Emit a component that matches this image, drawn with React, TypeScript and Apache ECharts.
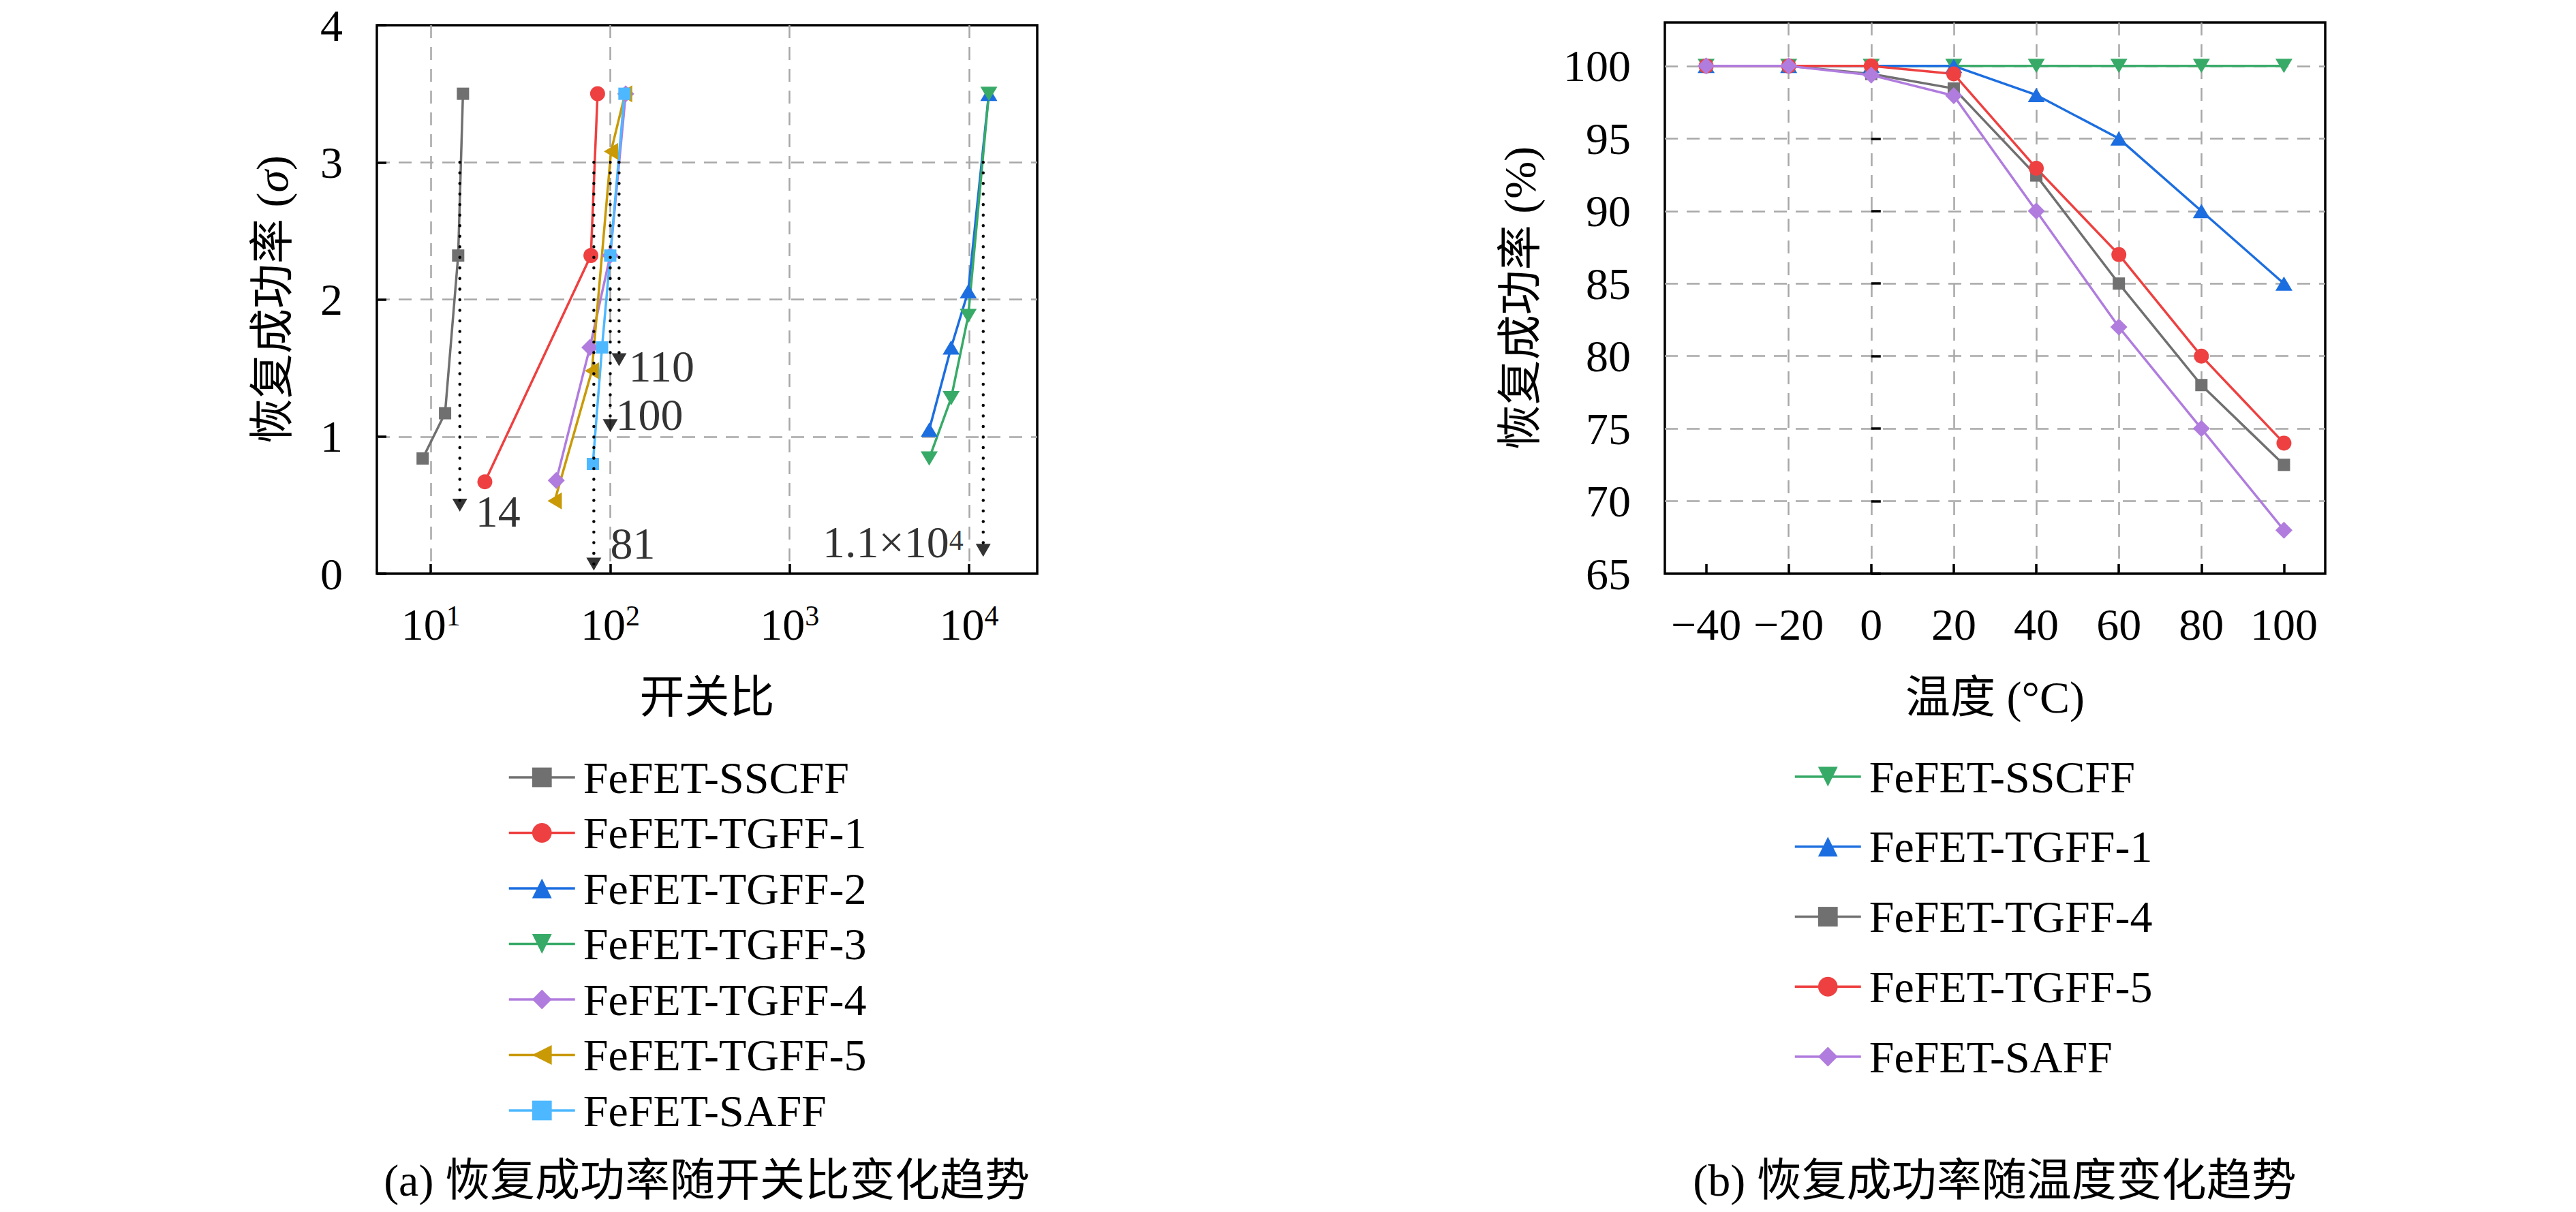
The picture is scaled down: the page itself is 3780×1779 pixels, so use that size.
import React, { useEffect, useRef } from 'react';
import * as echarts from 'echarts';

// ---------- (a) recovery success rate vs on/off ratio ----------
const leftNames = ['FeFET-SSCFF', 'FeFET-TGFF-1', 'FeFET-TGFF-2', 'FeFET-TGFF-3', 'FeFET-TGFF-4', 'FeFET-TGFF-5', 'FeFET-SAFF'];
const sscffRatio = [9, 12, 14.2, 15.1];
const sscffSigma = [0.84, 1.17, 2.32, 3.5];
const tgff1Ratio = [20, 78, 85];
const tgff1Sigma = [0.67, 2.32, 3.5];
const tgff2Ratio = [6000, 7950, 9900, 12900];
const tgff2Sigma = [1.05, 1.65, 2.06, 3.5];
const tgff3Ratio = [6000, 7950, 9900, 12900];
const tgff3Sigma = [0.84, 1.28, 1.88, 3.5];
const tgff4Ratio = [50, 77, 100, 122];
const tgff4Sigma = [0.68, 1.65, 2.32, 3.5];
const tgff5Ratio = [49, 79, 101, 121];
const tgff5Sigma = [0.53, 1.48, 3.08, 3.5];
const saffRatio = [80, 90, 100, 120];
const saffSigma = [0.8, 1.65, 2.32, 3.5];

// dotted arrows marking the on/off ratio reached
const arrowRatio = [14.5, 81, 100, 112, 12000];
const arrowFrom = [3, 3, 3, 3, 3];
const arrowTo = [0.5, 0.07, 1.08, 1.56, 0.17];
const arrowText = ['14', '81', '100', '110', '1.1×10{sup|4}'];

const leftYTicks = [0, 1, 2, 3, 4];
const leftXRange = [5, 24000];

// ---------- (b) recovery success rate vs temperature ----------
const rightNames = ['FeFET-SSCFF', 'FeFET-TGFF-1', 'FeFET-TGFF-4', 'FeFET-TGFF-5', 'FeFET-SAFF'];
const temps = [-40, -20, 0, 20, 40, 60, 80, 100];
const rSSCFF = [100, 100, 100, 100, 100, 100, 100, 100];
const rTGFF1 = [100, 100, 100, 100, 98, 95, 90, 85];
const rTGFF4 = [100, 100, 99.45, 98.45, 92.45, 85, 78, 72.5];
const rTGFF5 = [100, 100, 100, 99.45, 92.95, 87, 80, 74];
const rSAFF = [100, 100, 99.37, 97.95, 90, 82, 75, 68];
const rightYTicks = [65, 70, 75, 80, 85, 90, 95, 100];

// ---------- styles ----------
const C = {
  gray: '#707070',
  red: '#ee4040',
  blue: '#1c6ee0',
  green: '#38aa68',
  purple: '#b07cde',
  gold: '#c99a06',
  sky: '#4db8ff',
};
const FONT = '"Liberation Serif", "Noto Sans CJK SC", serif';
const FS = 66;
const GRID_L = { left: 553, top: 37, width: 969, height: 805 };
const GRID_R = { left: 553, top: 33, width: 969, height: 809 };

type Sty = { color: string; symbol: string; size: number | number[]; rotate: number };
const SQ = { symbol: 'rect', size: 18, rotate: 0 };
const CI = { symbol: 'circle', size: 22, rotate: 0 };
const UP = { symbol: 'triangle', size: [25, 21], rotate: 0 };
const DN = { symbol: 'triangle', size: [25, 21], rotate: 180 };
const DI = { symbol: 'diamond', size: 25, rotate: 0 };
const LT = { symbol: 'triangle', size: [25, 21], rotate: 90 };

const leftStyles: Sty[] = [
  { ...SQ, color: C.gray },
  { ...CI, color: C.red },
  { ...UP, color: C.blue },
  { ...DN, color: C.green },
  { ...DI, color: C.purple },
  { ...LT, color: C.gold },
  { ...SQ, color: C.sky },
];
const rightStyles: Sty[] = [
  { ...DN, color: C.green },
  { ...UP, color: C.blue },
  { ...SQ, color: C.gray },
  { ...CI, color: C.red },
  { ...DI, color: C.purple },
];
// label placement for arrow annotations: [position, dx, dy]
const arrowLabelPlace: [string, number, number][] = [
  ['right', 12, 9],
  ['right', 13, -30],
  ['right', -3, -16],
  ['right', 3, 9],
  ['left', -18, -12],
];

const zip = (xs: number[], ys: number[]) => xs.map((x, i) => [x, ys[i]]);

const supRich = {
  sup: { fontSize: 42, lineHeight: 34, verticalAlign: 'top', fontFamily: FONT, color: '#000' },
};

const gridLine = { show: true, lineStyle: { color: '#a8a8a8', width: 2.5, type: [19, 13] }, showMinLine: false, showMaxLine: false };
const tickStyle = { show: true, inside: true, length: 14, lineStyle: { color: '#000', width: 3.5 } };
const labelBase = { fontSize: FS, fontFamily: FONT, color: '#000', lineHeight: FS };

function lineSeries(name: string, data: number[][], s: Sty) {
  return {
    type: 'line',
    name,
    data,
    symbol: s.symbol,
    symbolSize: s.size,
    symbolRotate: s.rotate,
    showAllSymbol: true,
    clip: false,
    lineStyle: { color: s.color, width: 3.5 },
    itemStyle: { color: s.color },
    emphasis: { disabled: true },
    z: 2,
  };
}

function legendOpt(names: string[], left: number, top: number, gap: number) {
  return {
    orient: 'vertical',
    left,
    top,
    padding: 0,
    itemWidth: 97,
    itemHeight: 36,
    itemGap: gap,
    selectedMode: false,
    data: names,
    lineStyle: { width: 3.5 },
    textStyle: { fontSize: FS, fontFamily: FONT, color: '#000', lineHeight: FS, padding: [0, 0, 0, 7] },
  };
}

function caption(text: string) {
  return [
    {
      type: 'text',
      x: 1037,
      y: 1732,
      style: {
        text,
        fontSize: FS,
        fontFamily: FONT,
        fill: '#000',
        align: 'center',
        verticalAlign: 'middle',
        textAlign: 'center',
        textVerticalAlign: 'middle',
      },
    },
  ];
}

function leftOption() {
  const xs = [sscffRatio, tgff1Ratio, tgff2Ratio, tgff3Ratio, tgff4Ratio, tgff5Ratio, saffRatio];
  const ys = [sscffSigma, tgff1Sigma, tgff2Sigma, tgff3Sigma, tgff4Sigma, tgff5Sigma, saffSigma];
  const series: any[] = leftNames.map((n, i) => lineSeries(n, zip(xs[i], ys[i]), leftStyles[i]));
  arrowRatio.forEach((x, i) => {
    series.push({
      type: 'line',
      name: 'arrow-' + i,
      data: [[x, arrowFrom[i]], [x, arrowTo[i]]],
      symbol: 'none',
      clip: false,
      lineStyle: { color: '#000', width: 4.5, type: [0.01, 15.5], cap: 'round' },
      emphasis: { disabled: true },
      z: 3,
    });
  });
  series.push({
    type: 'scatter',
    name: 'arrow-heads',
    symbol: 'triangle',
    symbolRotate: 180,
    symbolSize: [22, 19],
    itemStyle: { color: '#000' },
    emphasis: { disabled: true },
    z: 4,
    data: arrowRatio.map((x, i) => ({
      value: [x, arrowTo[i]],
      label: {
        show: true,
        position: arrowLabelPlace[i][0],
        distance: 0,
        offset: [arrowLabelPlace[i][1], arrowLabelPlace[i][2]],
        formatter: arrowText[i],
        fontSize: FS,
        fontFamily: FONT,
        color: '#000',
        lineHeight: 48,
        textBorderWidth: 0,
        rich: supRich,
      },
    })),
  });

  return {
    animation: false,
    backgroundColor: '#fff',
    grid: { ...GRID_L, show: true, borderColor: '#000', borderWidth: 3.5, backgroundColor: 'transparent' },
    legend: legendOpt(leftNames, 745, 1108, 15.5),
    xAxis: {
      type: 'log',
      logBase: 10,
      min: leftXRange[0],
      max: leftXRange[1],
      axisLine: { show: false },
      axisTick: tickStyle,
      splitLine: gridLine,
      axisLabel: {
        ...labelBase,
        margin: 41,
        showMinLabel: false,
        showMaxLabel: false,
        formatter: (v: number) => {
          const e = Math.log10(v);
          if (Math.abs(e - Math.round(e)) > 1e-6) return '';
          return '10{sup|' + Math.round(e) + '}';
        },
        rich: supRich,
      },
      name: '开关比',
      nameLocation: 'middle',
      nameGap: 148,
      nameTextStyle: { ...labelBase },
    },
    yAxis: {
      type: 'value',
      min: leftYTicks[0],
      max: leftYTicks[leftYTicks.length - 1],
      interval: 1,
      axisLine: { show: false },
      axisTick: tickStyle,
      splitLine: gridLine,
      axisLabel: { ...labelBase, lineHeight: 48, margin: 50 },
      name: '恢复成功率 ({it|σ})',
      nameLocation: 'middle',
      nameGap: 121,
      nameTextStyle: {
        ...labelBase,
        rich: { it: { fontStyle: 'italic', fontSize: FS, fontFamily: FONT, color: '#000', lineHeight: FS } },
      },
    },
    graphic: caption('(a) 恢复成功率随开关比变化趋势'),
    series,
  };
}

function rightOption() {
  const ys = [rSSCFF, rTGFF1, rTGFF4, rTGFF5, rSAFF];
  const series = rightNames.map((n, i) => lineSeries(n, zip(temps, ys[i]), rightStyles[i]));
  return {
    animation: false,
    backgroundColor: '#fff',
    grid: { ...GRID_R, show: true, borderColor: '#000', borderWidth: 3.5, backgroundColor: 'transparent' },
    legend: legendOpt(rightNames, 742, 1107, 36.75),
    xAxis: {
      type: 'value',
      min: -50,
      max: 110,
      axisLine: { show: false },
      axisTick: { ...tickStyle, customValues: temps },
      splitLine: gridLine,
      axisLabel: {
        ...labelBase,
        margin: 41,
        customValues: temps,
        formatter: (v: number) => String(v).replace('-', '\u2212'),
      },
      name: '温度 (°C)',
      nameLocation: 'middle',
      nameGap: 148,
      nameTextStyle: { ...labelBase },
    },
    yAxis: {
      type: 'value',
      min: rightYTicks[0],
      max: 103,
      interval: 5,
      axisLine: { show: false },
      axisTick: tickStyle,
      splitLine: gridLine,
      axisLabel: { ...labelBase, lineHeight: 48, margin: 50, showMaxLabel: false },
      name: '恢复成功率 (%)',
      nameLocation: 'middle',
      nameGap: 180,
      nameTextStyle: { ...labelBase },
    },
    graphic: caption('(b) 恢复成功率随温度变化趋势'),
    series,
  };
}

export default function App() {
  const leftRef = useRef<HTMLDivElement>(null);
  const rightRef = useRef<HTMLDivElement>(null);

  useEffect(() => {
    document.body.style.margin = '0';
    document.body.style.overflow = 'hidden';
    const a = echarts.init(leftRef.current!, undefined, { renderer: 'svg' });
    const b = echarts.init(rightRef.current!, undefined, { renderer: 'svg' });
    a.setOption(leftOption() as any);
    b.setOption(rightOption() as any);
    return () => {
      a.dispose();
      b.dispose();
    };
  }, []);

  return (
    <div style={{ position: 'fixed', left: 0, top: 0, width: 3780, height: 1779, background: '#fff' }}>
      <div ref={leftRef} style={{ position: 'absolute', left: 0, top: 0, width: 1890, height: 1779 }} />
      <div ref={rightRef} style={{ position: 'absolute', left: 1890, top: 0, width: 1890, height: 1779 }} />
    </div>
  );
}
